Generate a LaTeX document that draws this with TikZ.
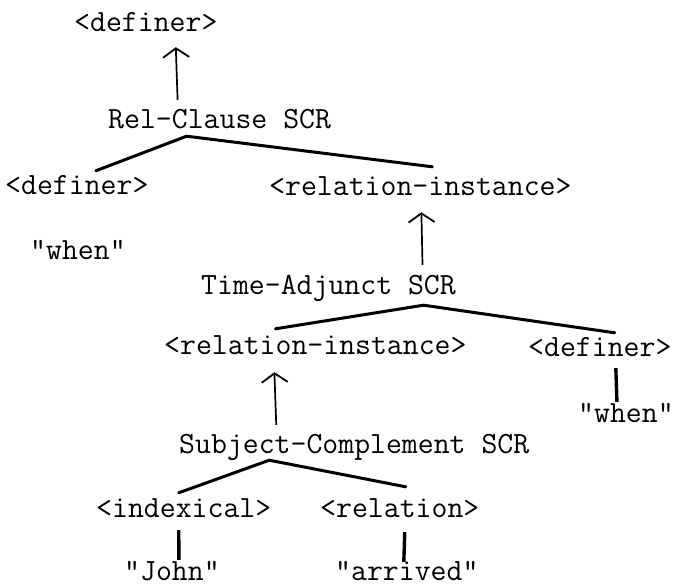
\documentclass[tikz,border=0pt]{standalone}
\usetikzlibrary{arrows.meta}
\tikzset{
  typed/.style={anchor=base west,inner sep=0pt,text height=19pt,text depth=0pt,
    font=\fontsize{30.9}{36}\selectfont\ttfamily},
  tyarrow/.style={-{Straight Barb[length=9pt,width=26pt,line width=1.8pt]},line width=1.7pt},
  branch/.style={line width=3pt,line cap=round,line join=round},
  bar/.style={line width=3.4pt}
}
\begin{document}
\begin{tikzpicture}[x=1pt,y=-1pt]
	\useasboundingbox (0,0) rectangle (677,587);
	\node[typed] (def0) at (74,31) {<definer>};
	\node[typed] (rcl) at (108,128) {Rel-Clause SCR};
	\node[typed] (def1) at (5,194) {<definer>};
	\node[typed] (ri1) at (269,195) {<relation-instance>};
	\node[typed] (w1) at (30,259) {"when"};
	\node[typed] (tas) at (201,294) {Time-Adjunct SCR};
	\node[typed] (ri2) at (164,354) {<relation-instance>};
	\node[typed] (def2) at (528,356) {<definer>};
	\node[typed] (w2) at (578,422) {"when"};
	\node[typed] (scs) at (179,453) {Subject-Complement SCR};
	\node[typed] (idx) at (96,517) {<indexical>};
	\node[typed] (rel) at (320,517) {<relation>};
	\node[typed] (jn) at (124,580) {"John"};
	\node[typed] (arr) at (335,580) {"arrived"};

	\draw[tyarrow] ([xshift=-42pt,yshift=9pt]rcl.north) -- ([xshift=30pt,yshift=-16pt]def0.south);
	\draw[tyarrow] ([xshift=94pt,yshift=10pt]tas.north) -- ([xshift=1pt,yshift=-17pt]ri1.south);
	\draw[tyarrow] ([xshift=-78pt,yshift=9pt]scs.north) -- ([xshift=-41pt,yshift=-18pt]ri2.south);

	\draw[branch] ([xshift=19pt,yshift=4pt]def1.north) -- ([xshift=-33pt,yshift=-8pt]rcl.south) -- ([xshift=12pt,yshift=9pt]ri1.north);
	\draw[branch] ([xshift=-40pt,yshift=6pt]ri2.north) -- ([xshift=95pt,yshift=-11pt]tas.south) -- ([xshift=15pt,yshift=4pt]def2.north);
	\draw[branch] ([xshift=-5pt,yshift=5pt]idx.north) -- ([xshift=-85pt,yshift=-7pt]scs.south) -- ([xshift=6pt,yshift=11pt]rel.north);

	\draw[bar] ([xshift=16pt,yshift=-12pt]def2.south) -- ([xshift=-9pt,yshift=1pt]w2.north);
	\draw[bar] ([xshift=-5pt,yshift=-13pt]idx.south) -- ([xshift=7pt,yshift=1pt]jn.north);
	\draw[bar] ([xshift=5pt,yshift=-15pt]rel.south) -- ([xshift=-3pt,yshift=-1pt]arr.north);
\end{tikzpicture}
\end{document}
